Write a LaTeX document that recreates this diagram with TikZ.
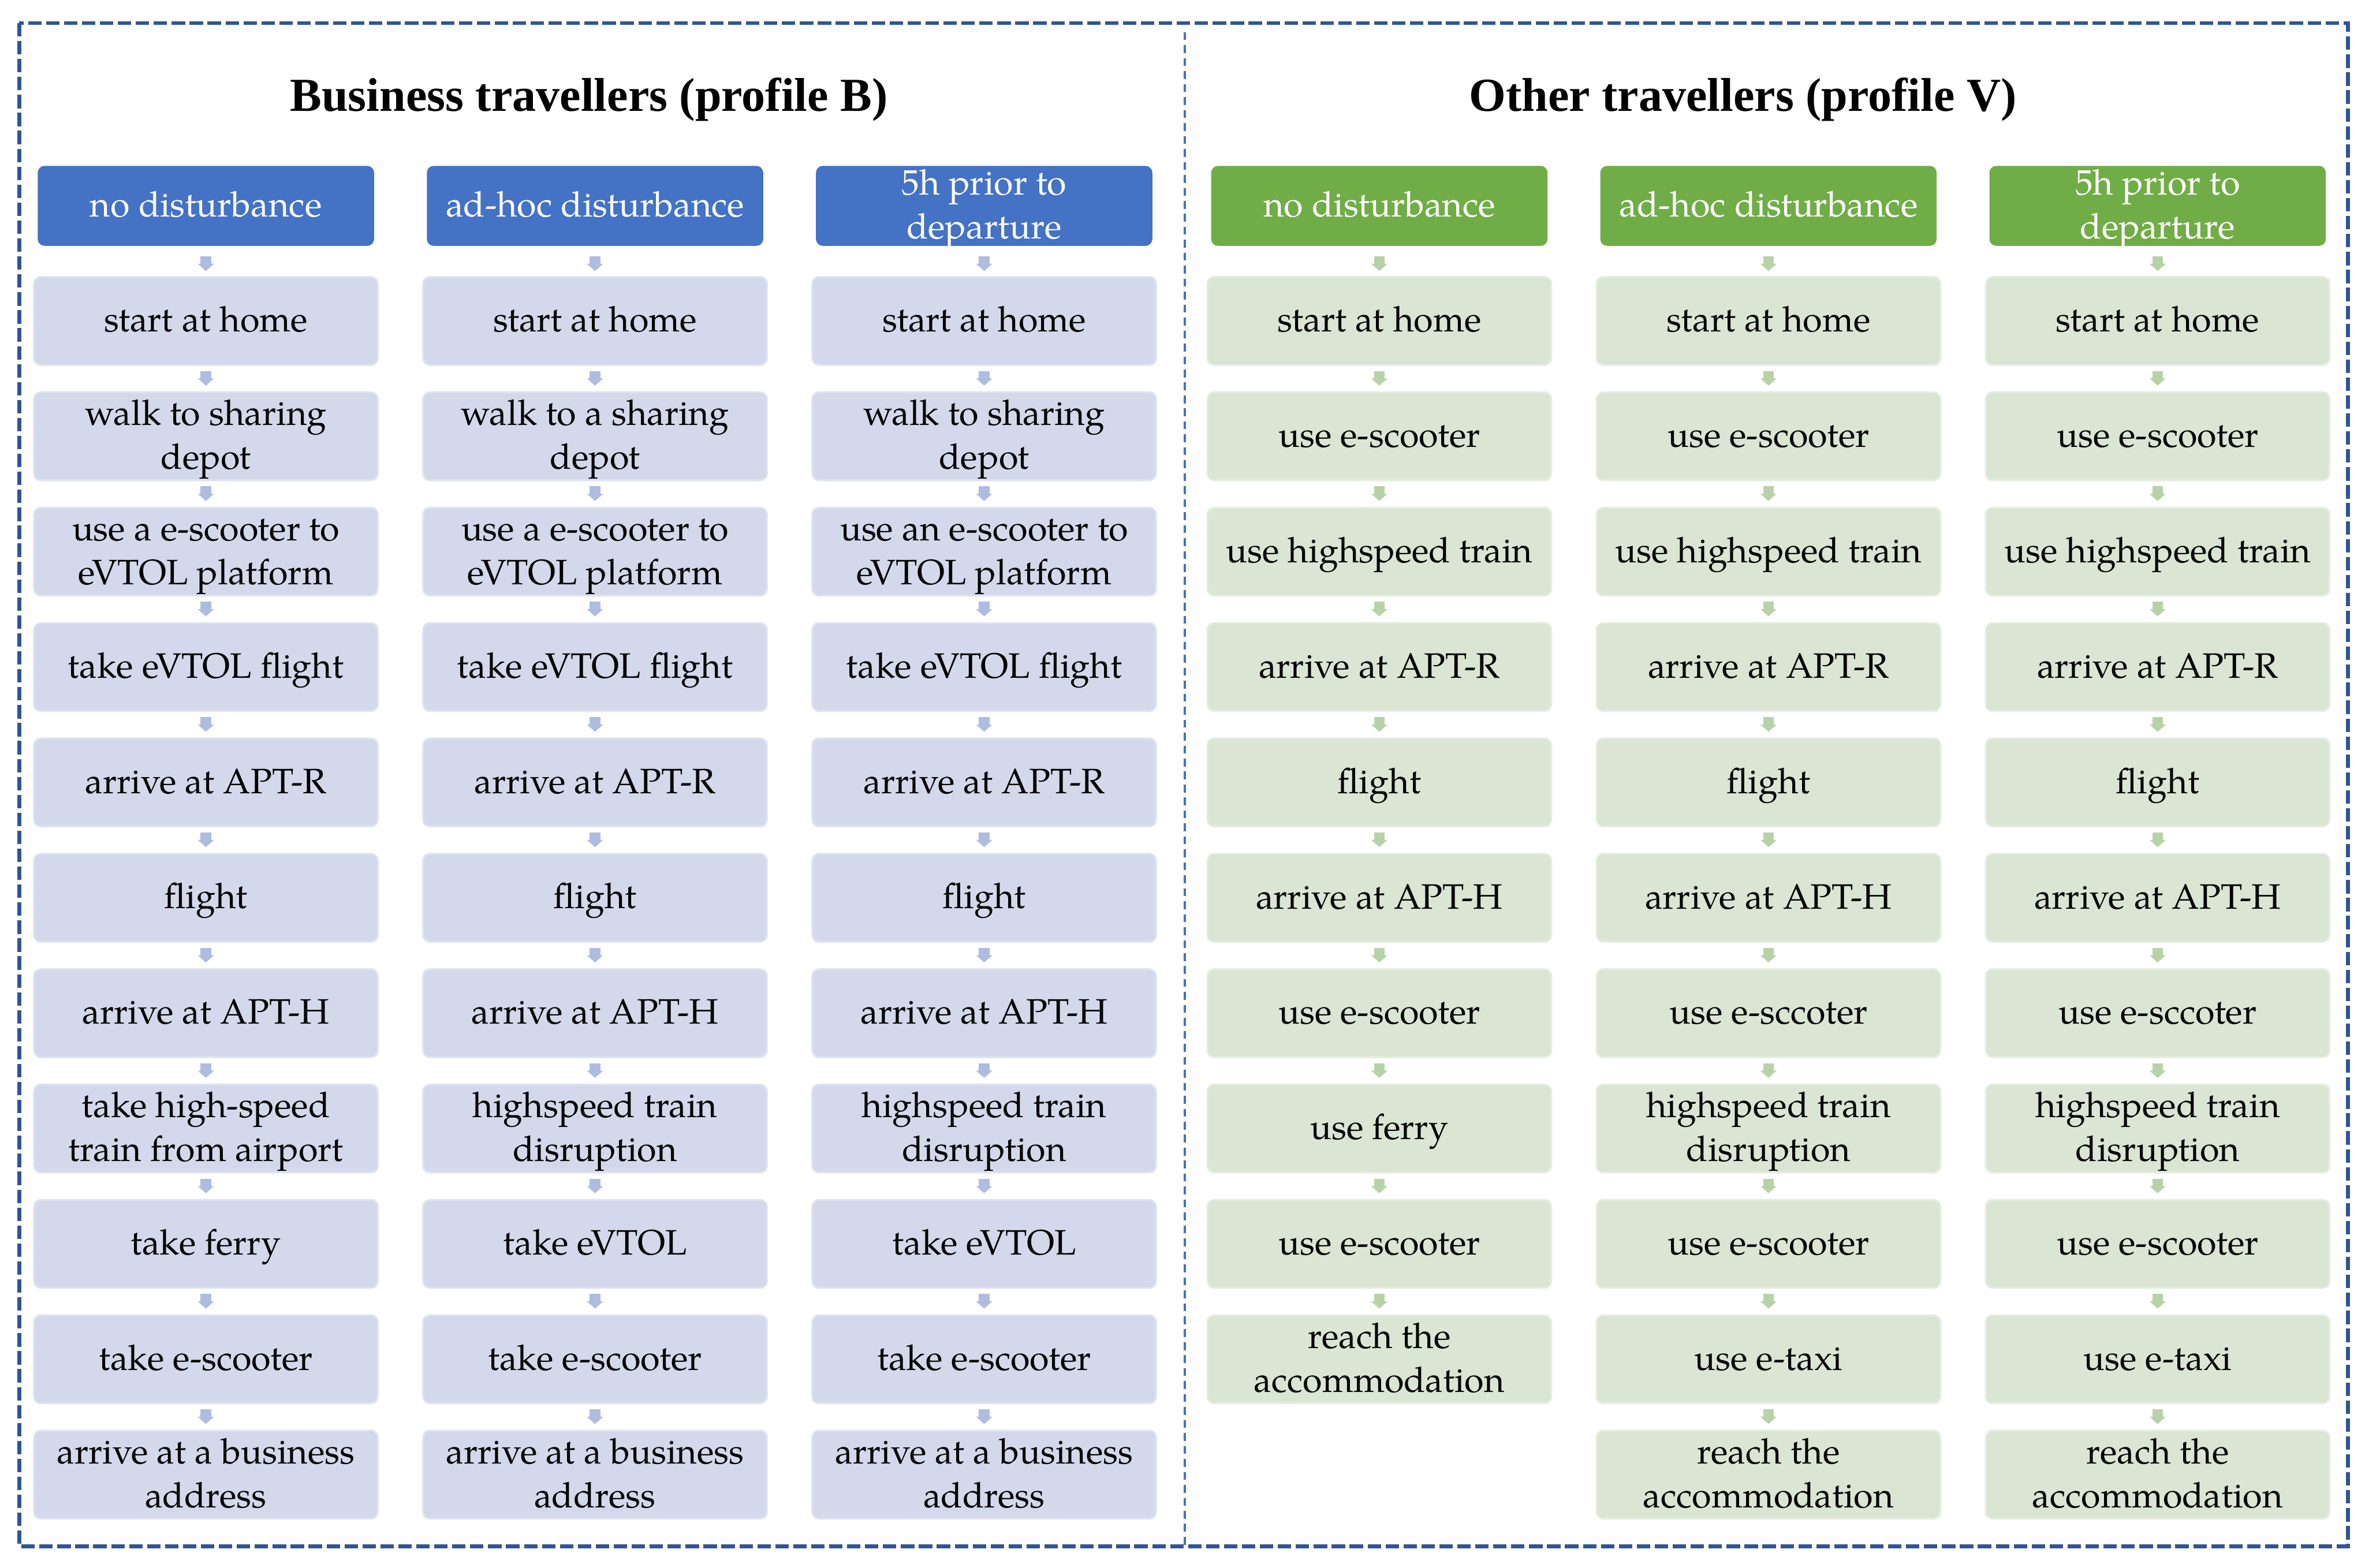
\documentclass[tikz,border=0pt]{standalone}
\usepackage{fontspec}
\setmainfont{texgyrepagella-regular.otf}[BoldFont=texgyrepagella-bold.otf]
\newfontfamily\titlefont{Liberation Serif}
\usetikzlibrary{arrows.meta}
\definecolor{hblue}{HTML}{4472C4}
\definecolor{lblue}{HTML}{D3D9EB}
\definecolor{ablue}{HTML}{AEBCE0}
\definecolor{hgreen}{HTML}{70AD47}
\definecolor{lgreen}{HTML}{DAE5D3}
\definecolor{agreen}{HTML}{B7D2A8}
\definecolor{frameblue}{HTML}{2F5597}

\newcommand\colA{{start at home},{walk to sharing\\depot},{use a e-scooter to\\eVTOL platform},{take eVTOL flight},{arrive at APT-R},{flight},{arrive at APT-H},{take high-speed\\train from airport},{take ferry},{take e-scooter},{arrive at a business\\address}}
\newcommand\colB{{start at home},{walk to a sharing\\depot},{use a e-scooter to\\eVTOL platform},{take eVTOL flight},{arrive at APT-R},{flight},{arrive at APT-H},{highspeed train\\disruption},{take eVTOL},{take e-scooter},{arrive at a business\\address}}
\newcommand\colC{{start at home},{walk to sharing\\depot},{use an e-scooter to\\eVTOL platform},{take eVTOL flight},{arrive at APT-R},{flight},{arrive at APT-H},{highspeed train\\disruption},{take eVTOL},{take e-scooter},{arrive at a business\\address}}
\newcommand\colD{{start at home},{use e-scooter},{use highspeed train},{arrive at APT-R},{flight},{arrive at APT-H},{use e-scooter},{use ferry},{use e-scooter},{reach the\\accommodation}}
\newcommand\colE{{start at home},{use e-scooter},{use highspeed train},{arrive at APT-R},{flight},{arrive at APT-H},{use e-sccoter},{highspeed train\\disruption},{use e-scooter},{use e-taxi},{reach the\\accommodation}}
\newcommand\colF{{start at home},{use e-scooter},{use highspeed train},{arrive at APT-R},{flight},{arrive at APT-H},{use e-sccoter},{highspeed train\\disruption},{use e-scooter},{use e-taxi},{reach the\\accommodation}}

% fixed first-line height and last-line depth, so that every baseline sits as in the reference
\newcommand\topstrut{\rule{0pt}{21pt}}
\newcommand\botstrut{\rule[-6.5pt]{0pt}{6.5pt}}
\newcommand\boxtext[1]{\topstrut#1\botstrut}

\tikzset{
  txt/.style={font=\fontsize{23.4}{29}\selectfont, align=center, inner sep=0pt},
  headbox/.style={rounded corners=4.5pt, minimum width=223pt, minimum height=53pt, inner sep=0pt},
  headtext/.style={txt, text=white},
  stepbox/.style={txt, rounded corners=4.5pt, minimum width=228pt, minimum height=58.4pt, text=black, line width=1.2pt},
  flowarrow/.style={line width=7pt, -{Triangle[width=10.5pt,length=4.8pt]}},
  firstarrow/.style={flowarrow, shorten <=6.7pt, shorten >=3.3pt},
  nextarrow/.style={flowarrow, shorten <=3.4pt, shorten >=3.8pt},
  titletext/.style={font=\titlefont\bfseries\fontsize{31.4}{36}\selectfont, anchor=base, inner sep=0pt},
  outerframe/.style={draw=frameblue, line width=2.6pt, dash pattern=on 8.9pt off 3pt},
  divider/.style={draw=hblue, line width=1.7pt, dash pattern=on 5.2pt off 3.4pt},
}

% \makecolumn{name}{x}{list}{header text}{header colour}{box colour}{arrow colour}
\newcommand\makecolumn[7]{%
  \node[headbox, fill=#5, label={[headtext]center:{\boxtext{#4}}}] (#1-0) at (#2,136.5) {};
  \foreach \t [count=\i, evaluate=\i as \p using int(\i-1)] in #3 {
    \node[stepbox, fill=#6, draw=#6!70!white] (#1-\i) at (#2,{212.8+76.5*(\i-1)}) {\boxtext{\t}};
    \ifnum\i=1 \def\arrsty{firstarrow}\else\def\arrsty{nextarrow}\fi
    \draw[\arrsty, #7] (#1-\p.south) -- (#1-\i.north);
  }
}

\begin{document}
\begin{tikzpicture}[x=1pt,y=-1pt]
  \useasboundingbox (0,0) rectangle (1568,1039.55);
  \fill[white] (0,0) rectangle (1568,1039.55);

  \draw[outerframe] (12.7,15.3) rectangle (1556.7,1025.3);
  \coordinate (divtop) at (785.6,21.4);
  \coordinate (divbot) at (785.6,1025.3);
  \draw[divider] (divtop) -- (divbot);

  \node[titletext] (titleB) at (390.5,73.8) {Business travellers (profile B)};
  \node[titletext] (titleV) at (1155.5,73.8) {Other travellers (profile V)};

  \makecolumn{A}{136.5}{\colA}{no disturbance}{hblue}{lblue}{ablue}
  \makecolumn{B}{394.5}{\colB}{ad-hoc disturbance}{hblue}{lblue}{ablue}
  \makecolumn{C}{652.5}{\colC}{5h prior to\\departure}{hblue}{lblue}{ablue}
  \makecolumn{D}{914.5}{\colD}{no disturbance}{hgreen}{lgreen}{agreen}
  \makecolumn{E}{1172.5}{\colE}{ad-hoc disturbance}{hgreen}{lgreen}{agreen}
  \makecolumn{F}{1430.5}{\colF}{5h prior to\\departure}{hgreen}{lgreen}{agreen}
\end{tikzpicture}
\end{document}
